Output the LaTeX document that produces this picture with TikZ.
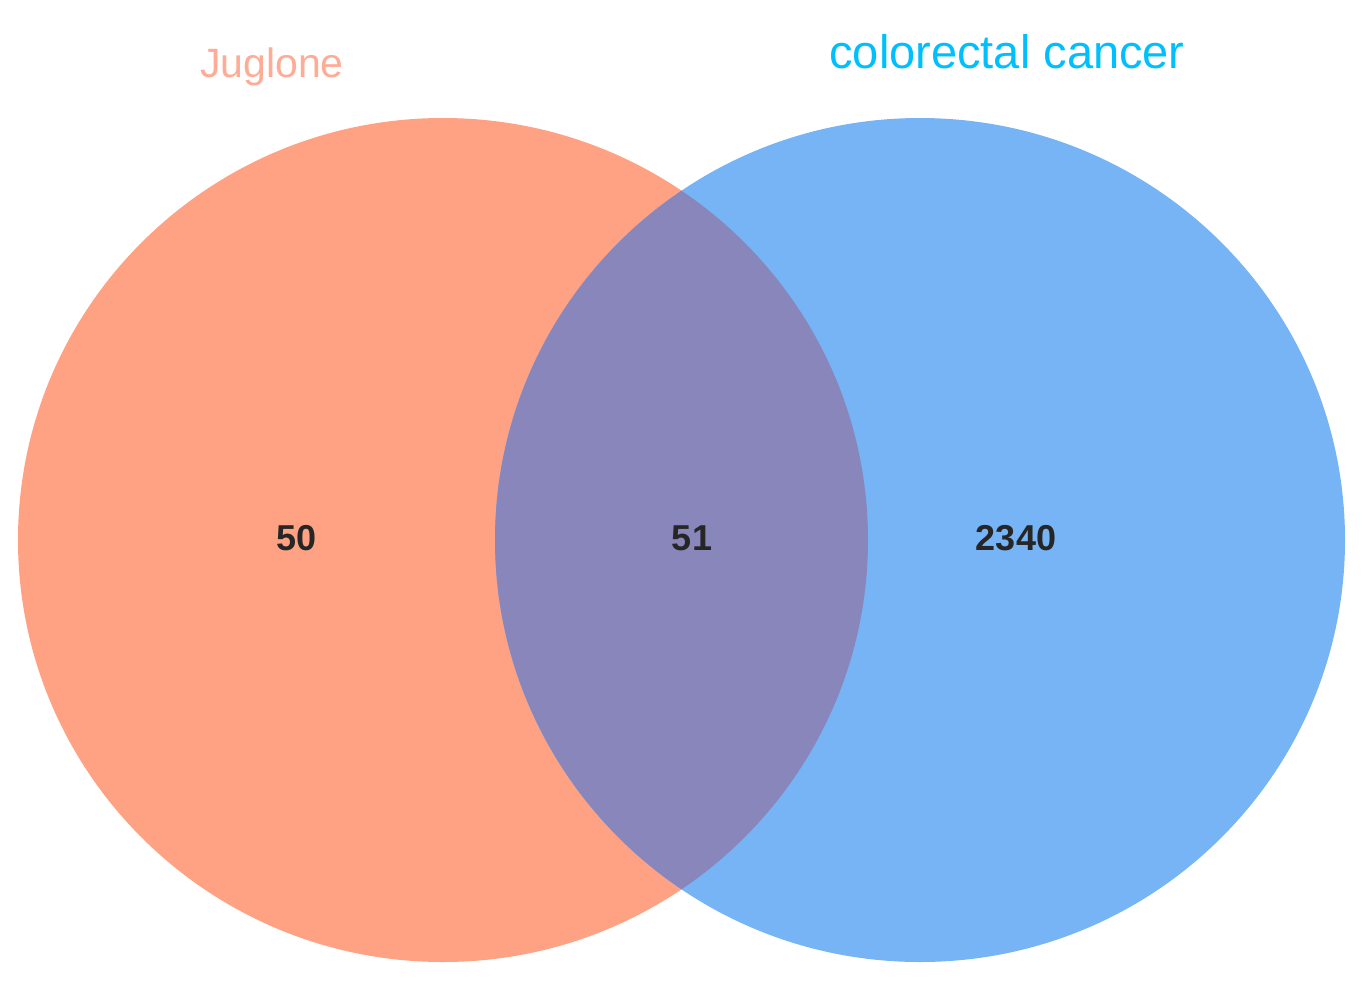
\documentclass[tikz,border=0pt]{standalone}
\usepackage{fontspec}
\setmainfont{Liberation Sans}
\definecolor{jugfill}{RGB}{254,162,131}
\definecolor{crcfill}{RGB}{118,180,246}
\definecolor{bothfill}{RGB}{137,134,188}
\definecolor{jugtext}{RGB}{255,172,150}
\definecolor{crctext}{RGB}{0,191,255}
\begin{document}
\begin{tikzpicture}[x=1pt,y=-1pt,
    settitle/.style={anchor=base,inner sep=0pt},
    count/.style={anchor=base,inner sep=0pt,font=\fontsize{36}{36}\selectfont\bfseries,text=black!85}]
    \useasboundingbox (0,0) rectangle (1364,986);
    % the two sets
    \fill[jugfill] (443,540) ellipse [x radius=425,y radius=422];
    \fill[crcfill] (920,540) ellipse [x radius=425,y radius=422];
    \begin{scope}
        \clip (443,540) ellipse [x radius=425,y radius=422];
        \fill[bothfill] (920,540) ellipse [x radius=425,y radius=422];
    \end{scope}
    % titles
    \node[settitle,text=jugtext,font=\fontsize{41}{41}\selectfont] (jug) at (272,77) {Juglone};
    \node[settitle,text=crctext,font=\fontsize{47}{47}\selectfont] (crc) at (1007,68) {colorectal cancer};
    % counts
    \node[count] (onlyjug) at (297,550) {50};
    \node[count] (both) at (692,550) {51};
    \node[count] (onlycrc) at (1016,550) {2340};
\end{tikzpicture}
\end{document}
